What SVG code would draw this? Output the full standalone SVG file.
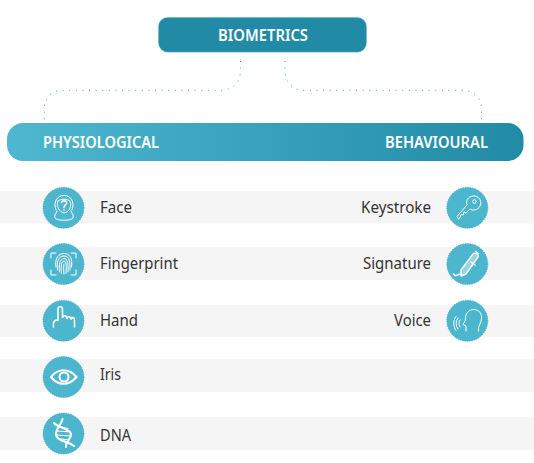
<svg xmlns="http://www.w3.org/2000/svg" width="534" height="463" viewBox="0 0 534 463">
<style>
.band{fill:#f5f5f5}
.c{fill:#4db6cf;stroke:#3a9db6;stroke-width:.7;stroke-dasharray:1.2 1.2}
.i{fill:none;stroke:#fff;stroke-width:1;stroke-linecap:round;stroke-linejoin:round}
.s14{stroke-width:1.4}
.s16{stroke-width:1.6}
.s2{stroke-width:2.1}
.pf{fill:#fff;fill-opacity:.4}
.h{font-family:"Noto Sans","Liberation Sans",sans-serif;font-weight:600;font-size:16px;fill:#fff}
.t{font-family:"Noto Sans","Liberation Sans",sans-serif;font-size:16px;fill:#333}
.conn{fill:none;stroke:#3aa3bf;stroke-width:1;stroke-dasharray:1 5.6}
</style>
<defs>
<linearGradient id="g" x1="0" y1="0" x2="1" y2="0"><stop offset="0" stop-color="#4fb7d0"/><stop offset="1" stop-color="#218aa5"/></linearGradient>
</defs>
<g id="bands">
<rect class="band" x="0" y="191" width="534" height="32.500"/>
<rect class="band" x="0" y="247" width="534" height="33"/>
<rect class="band" x="0" y="305" width="534" height="32"/>
<rect class="band" x="0" y="359" width="534" height="33"/>
<rect class="band" x="0" y="417" width="534" height="33"/>
</g>
<g id="connectors">
<path class="conn" d="M240.500 61V70C240.500 82 234 90.300 220 90.300H62C51 90.300 44.300 98 44.300 110V123"/>
<path class="conn" d="M285 61V70C285 82 291 90.300 305 90.300H462C474 90.300 481.500 98 481.500 110V123"/>
</g>
<g id="biometrics">
<rect x="158.300" y="17.300" width="208.400" height="35" rx="9.500" fill="#218aa5" stroke="#b5dbe5" stroke-width=".5"/>
<text class="h" x="218" y="40.500" textLength="90" lengthAdjust="spacingAndGlyphs">BIOMETRICS</text>
</g>
<g id="bar">
<rect x="7" y="123" width="516.500" height="38" rx="16" fill="url(#g)"/>
<text class="h" x="43" y="147.800" textLength="116" lengthAdjust="spacingAndGlyphs">PHYSIOLOGICAL</text>
<text class="h" x="385" y="147.800" textLength="103" lengthAdjust="spacingAndGlyphs">BEHAVIOURAL</text>
</g>
<g id="face">
<circle class="c" cx="63.500" cy="207.700" r="20.500"/>
<path class="i" d="M56 210C53 202 57 195.500 64 195.500C71 195.500 75 202 72 210M58 201C60 198.500 68 198.500 70 201.500C72 205 70 212 64 213C59 212 56 206 58 201ZM57 211C56 214 54 215 55 218C57 221 71 221 73 218C74 215 72 214 71 211"/>
<path class="i s16" d="M61.500 202.500C62 200 67 200 66.500 203.500C66 205 64 205 64 207.500M64 209.800V210"/>
<text class="t" x="100" y="212.800" textLength="32" lengthAdjust="spacingAndGlyphs">Face</text>
</g>
<g id="fingerprint">
<circle class="c" cx="63.500" cy="264" r="20.500"/>
<path class="i" d="M51 258V253H56M71 253H76V258M76 270V275H71M56 275H51V270"/>
<path class="i" d="M56 267C54.500 258 58.500 253.500 64 253.500C69.500 253.500 73 258 71.500 267M57.500 270C56.500 262 58 256 64 256C69.500 256 70.500 262 70 270M59.500 272C58.500 265 60 258.500 64 258.500C68 258.500 68.500 265 68 272M61.500 273.500C60.500 267 61.500 261 64 261C66.500 261 66.500 267 66 273.500M64 274C63.500 269 63.500 266 64 264"/>
<text class="t" x="100" y="269" textLength="78" lengthAdjust="spacingAndGlyphs">Fingerprint</text>
</g>
<g id="hand">
<circle class="c" cx="63.500" cy="320.700" r="20.500"/>
<path class="i s16" d="M53.500 327C52.500 322 55 319 58 320.500V309C58 306 62.500 306 62.500 309V317.500C63.500 315 66.500 315 67 318.500C67.500 316 70.500 316 71 319C71.500 317 74.500 317 74.500 320V327"/>
<text class="t" x="100" y="325.500" textLength="38" lengthAdjust="spacingAndGlyphs">Hand</text>
</g>
<g id="iris">
<circle class="c" cx="63.500" cy="377" r="20.500"/>
<path class="i s2" d="M51 377C58 368 69 368 76.500 377C69 386 58 386 51 377Z"/>
<circle class="i s2" cx="64" cy="377" r="4.500"/>
<text class="t" x="100" y="380" textLength="21" lengthAdjust="spacingAndGlyphs">Iris</text>
</g>
<g id="dna">
<circle class="c" cx="63.500" cy="433.500" r="20.500"/>
<path class="i s2" d="M54 423C58 428 70 428 71 434C71.500 440 65 441 66 447M62.500 419C62 424 56 428 56 434C56 441 68 441 74 446"/>
<path class="i" d="M60 427L68 428.500M57.500 431L70.500 432M57 435L71 436M58.500 438.500L69 440M62 441.500L66 442"/>
<text class="t" x="100" y="441" textLength="31" lengthAdjust="spacingAndGlyphs">DNA</text>
</g>
<g id="keystroke">
<circle class="c" cx="467.300" cy="207.700" r="20.500"/>
<path class="i" d="M458 218.500L457 216.500L467 205C465 199 470 195.500 475 196C480 197 482 202 480 206C478 210 473 211 470 209L466 213L464 212L463 215L461 214.500L460.500 217Z"/>
<circle class="i" cx="474.500" cy="201.500" r="1.800"/>
<text class="t" x="361" y="213" textLength="70" lengthAdjust="spacingAndGlyphs">Keystroke</text>
</g>
<g id="signature">
<circle class="c" cx="467.300" cy="264" r="20.500"/>
<path class="i s14 pf" d="M461 270L473 254C475 252 479 254 478 257L466 274L461 276Z"/>
<path class="i s14" d="M475.500 251.500L478.500 253.500M471 262L475 265M461 275C459 271 457 279 453.500 274"/>
<text class="t" x="363" y="269" textLength="68" lengthAdjust="spacingAndGlyphs">Signature</text>
</g>
<g id="voice">
<circle class="c" cx="467.300" cy="320.700" r="20.500"/>
<path class="i" d="M466 331V326L463 324.500L465.500 320C465 313 469 309.500 474 309.500C479 309.500 482 313.500 481.500 319C481 324 478.500 325 478.500 329V331"/>
<path class="i" d="M460 320C458.500 322 458.500 325 460 327M458 318C455.500 321 455.500 326 458 329M456 316.500C453 320 453 327 456 330.500"/>
<text class="t" x="394" y="325.500" textLength="37" lengthAdjust="spacingAndGlyphs">Voice</text>
</g>
</svg>
